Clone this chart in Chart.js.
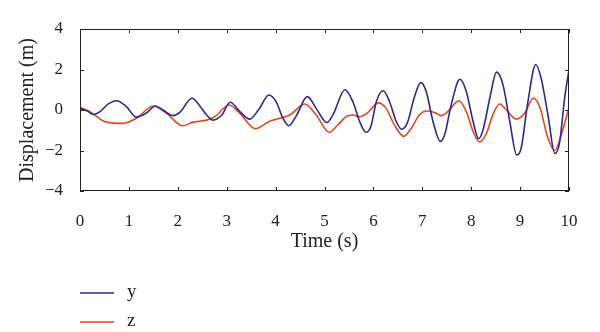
<!DOCTYPE html>
<html>
<head>
<meta charset="utf-8">
<script src="https://cdn.jsdelivr.net/npm/chart.js@4"></script>
<style>
  body { margin: 0; background: #fff; }
  canvas { display: block; }
</style>
</head>
<body>
<canvas id="dispChart" width="600" height="332"></canvas>
<script>
// Displacement time histories

const timeY = [0.00, 0.15, 0.27, 0.41, 0.58, 0.75, 0.95, 1.15, 1.36, 1.54, 1.70, 1.90, 2.04, 2.29, 2.45, 2.59, 2.72, 2.90, 3.07, 3.27, 3.47, 3.67, 3.86, 4.01, 4.15, 4.27, 4.42, 4.65, 4.83, 5.05, 5.17, 5.42, 5.58, 5.72, 5.85, 5.95, 6.06, 6.20, 6.33, 6.47, 6.58, 6.70, 6.84, 6.97, 7.08, 7.22, 7.37, 7.46, 7.59, 7.77, 7.90, 8.04, 8.15, 8.24, 8.38, 8.52, 8.65, 8.79, 8.93, 9.02, 9.16, 9.32, 9.43, 9.57, 9.71, 9.81, 9.91, 10.00];
const dispY = [0.08, -0.05, -0.22, -0.08, 0.30, 0.46, 0.17, -0.35, -0.15, 0.20, 0.00, -0.28, -0.12, 0.58, 0.20, -0.25, -0.50, -0.25, 0.38, -0.08, -0.45, 0.08, 0.74, 0.41, -0.41, -0.78, -0.30, 0.66, 0.08, -0.62, -0.25, 1.00, 0.41, -0.58, -1.10, -0.80, 0.41, 0.95, 0.41, -0.58, -0.95, -0.60, 0.66, 1.35, 0.91, -0.58, -1.55, -1.20, 0.25, 1.52, 0.91, -0.58, -1.42, -1.00, 0.58, 1.87, 1.24, -0.58, -2.22, -1.90, 0.41, 2.25, 1.57, -0.25, -2.15, -1.57, 0.58, 1.98];

const timeZ = [0.00, 0.20, 0.54, 0.88, 1.16, 1.50, 1.77, 2.10, 2.31, 2.59, 2.76, 3.05, 3.27, 3.58, 3.88, 4.08, 4.29, 4.60, 4.83, 5.10, 5.27, 5.44, 5.58, 5.72, 5.89, 6.10, 6.26, 6.43, 6.62, 6.77, 6.94, 7.08, 7.25, 7.39, 7.52, 7.75, 7.90, 8.04, 8.17, 8.31, 8.44, 8.58, 8.72, 8.92, 9.09, 9.27, 9.40, 9.57, 9.71, 9.84, 10.00];
const dispZ = [0.12, -0.08, -0.60, -0.66, -0.40, 0.20, -0.17, -0.78, -0.60, -0.50, -0.33, 0.25, -0.17, -0.92, -0.55, -0.41, -0.25, 0.30, -0.25, -1.10, -0.74, -0.33, -0.25, -0.33, -0.12, 0.35, 0.08, -0.74, -1.30, -0.91, -0.25, -0.05, -0.12, -0.28, -0.08, 0.46, -0.08, -1.07, -1.58, -1.16, -0.25, 0.30, 0.00, -0.45, -0.17, 0.58, 0.17, -1.40, -2.00, -1.24, 0.12];

const xTicks = [0, 1, 2, 3, 4, 5, 6, 7, 8, 9, 10];
const yTicks = [-4, -2, 0, 2, 4];
const seriesNames = ['y', 'z'];

const fontFamily = '"Liberation Serif", "Times New Roman", serif';
const textColor = '#222';

function toPoints(xs, ys) {
    return xs.map((x, i) => ({ x: x, y: ys[i] }));
}

// box round the plot with short inward ticks on every side
const boxPlugin = {
    id: 'boxTicks',
    afterDraw(chart) {
        const c = chart.ctx;
        const a = chart.chartArea;
        const xs = chart.scales.x;
        const ys = chart.scales.y;
        const len = 4;
        c.save();
        c.strokeStyle = '#222';
        c.lineWidth = 1;
        c.strokeRect(a.left + 0.5, a.top + 0.5, a.right - a.left - 1, a.bottom - a.top - 1);
        c.beginPath();
        xTicks.forEach(t => {
            const px = Math.round(xs.getPixelForValue(t)) + 0.5;
            c.moveTo(px, a.bottom);
            c.lineTo(px, a.bottom - len);
            c.moveTo(px, a.top);
            c.lineTo(px, a.top + len);
        });
        yTicks.forEach(t => {
            const py = Math.round(ys.getPixelForValue(t)) + 0.5;
            c.moveTo(a.left, py);
            c.lineTo(a.left + len, py);
            c.moveTo(a.right, py);
            c.lineTo(a.right - len, py);
        });
        c.stroke();
        c.restore();
    }
};

// legend stacked under the axis, lines on the left
const legendPlugin = {
    id: 'stackLegend',
    afterDraw(chart) {
        const c = chart.ctx;
        c.save();
        c.font = '19px ' + fontFamily;
        c.textBaseline = 'middle';
        chart.data.datasets.forEach((ds, i) => {
            const y = 293 + i * 29;
            c.strokeStyle = ds.borderColor;
            c.lineWidth = 1.5;
            c.beginPath();
            c.moveTo(80, y);
            c.lineTo(114, y);
            c.stroke();
            c.fillStyle = textColor;
            c.fillText(ds.label, 127, y - 1);
        });
        c.restore();
    }
};

const ctx = document.getElementById('dispChart').getContext('2d');

const dispChart = new Chart(ctx, {
    type: 'line',
    data: {
        datasets: [
            {
                label: seriesNames[0],
                data: toPoints(timeY, dispY),
                borderColor: '#2d2a8e',
                borderWidth: 1.6,
                pointRadius: 0,
                cubicInterpolationMode: 'monotone',
                fill: false,
            },
            {
                label: seriesNames[1],
                data: toPoints(timeZ, dispZ),
                borderColor: '#e2481c',
                borderWidth: 1.6,
                pointRadius: 0,
                cubicInterpolationMode: 'monotone',
                fill: false,
            },
        ],
    },
    options: {
        responsive: false,
        animation: false,
        layout: {
            padding: { top: 29, right: 31, bottom: 78, left: 0 },
        },
        plugins: {
            legend: { display: false },
            tooltip: { enabled: false },
        },
        scales: {
            x: {
                type: 'linear',
                min: 0,
                max: 10,
                afterFit: (s) => { s.height = 63; },
                afterBuildTicks: (s) => { s.ticks = xTicks.map(v => ({ value: v })); },
                grid: { display: false },
                border: { display: false },
                ticks: {
                    padding: 12,
                    maxRotation: 0,
                    color: textColor,
                    font: { family: fontFamily, size: 17 },
                },
                title: {
                    display: true,
                    text: 'Time (s)',
                    color: textColor,
                    padding: { top: 0, bottom: 0 },
                    font: { family: fontFamily, size: 20 },
                },
            },
            y: {
                min: -4,
                max: 4,
                afterFit: (s) => { s.width = 80; },
                afterBuildTicks: (s) => { s.ticks = yTicks.map(v => ({ value: v })); },
                grid: { display: false },
                border: { display: false },
                ticks: {
                    padding: 9,
                    color: textColor,
                    font: { family: fontFamily, size: 17 },
                    callback: (v) => (v < 0 ? '\u2212' + Math.abs(v) : String(v)),
                },
                title: {
                    display: true,
                    text: 'Displacement (m)',
                    color: textColor,
                    padding: { top: 16, bottom: 0 },
                    font: { family: fontFamily, size: 20 },
                },
            },
        },
    },
    plugins: [boxPlugin, legendPlugin],
});
</script>
</body>
</html>
